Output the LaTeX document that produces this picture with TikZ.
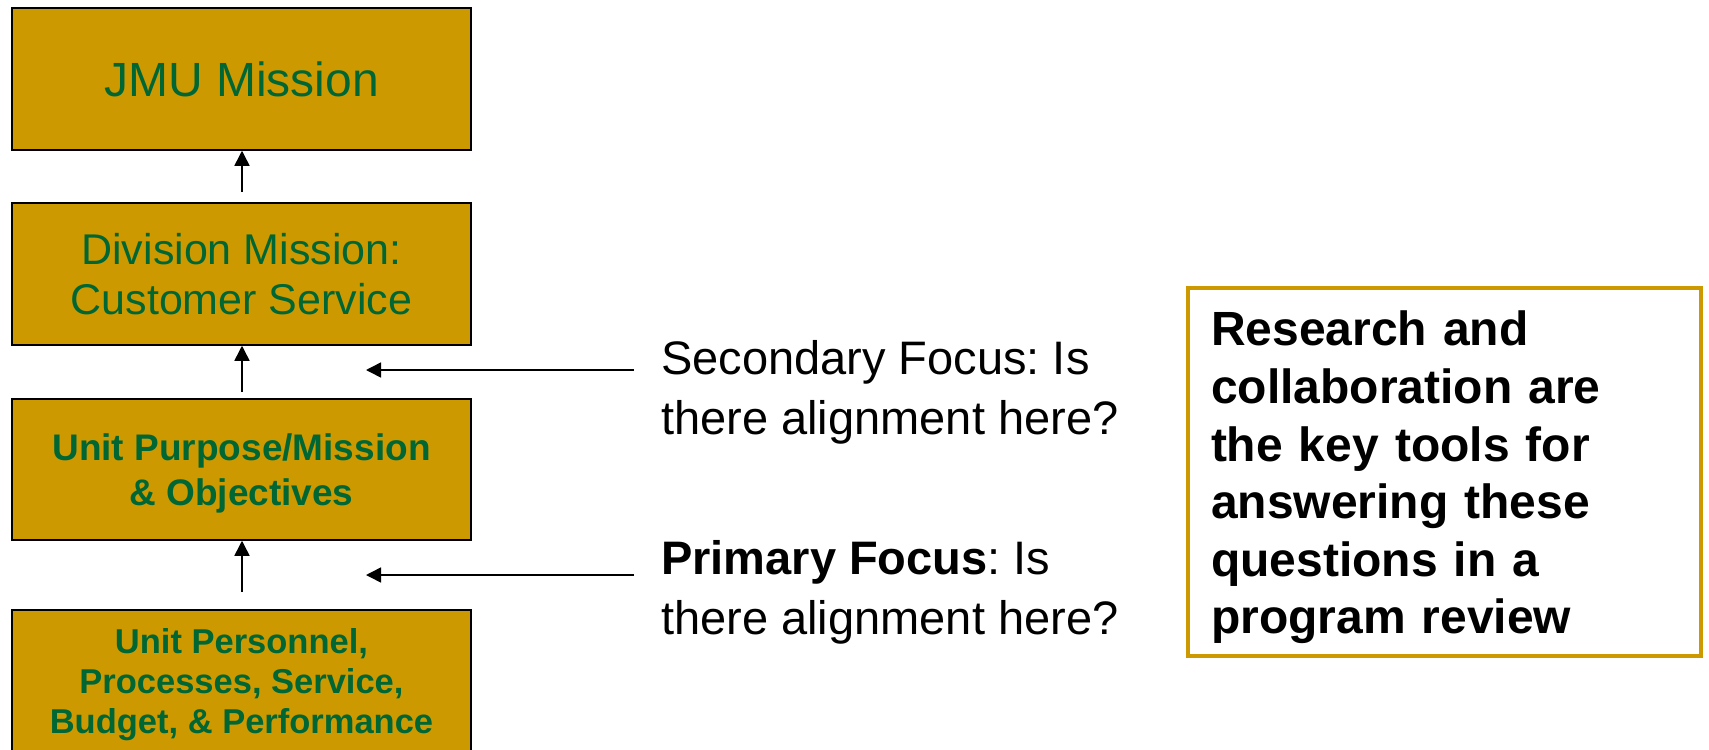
\documentclass[tikz,border=0pt]{standalone}
\usepackage{fontspec}
\setmainfont{Liberation Sans}
\usetikzlibrary{arrows.meta}
\definecolor{jmugold}{RGB}{204,153,0}
\definecolor{jmugreen}{RGB}{0,102,51}
\frenchspacing

\begin{document}
\begin{tikzpicture}[x=1pt,y=-1pt,
	goldbox/.style={draw=black,line width=1.5pt,fill=jmugold,text=jmugreen,minimum width=459pt,minimum height=142pt,inner sep=0pt,align=center,text depth=0pt},
	flow/.style={-{Triangle[length=15pt,width=15pt]},line width=1.5pt},
	question/.style={anchor=south west,inner sep=0pt,align=left,text depth=0pt,font=\fontsize{47}{60}\selectfont}]
	\useasboundingbox (0,0) rectangle (1709,750);
	\node (jmu) at (241.5,79)[goldbox,font=\fontsize{48}{58}\selectfont] {JMU Mission};
	\node (division) at (241.5,274)[goldbox,font=\fontsize{43}{50}\selectfont] {Division Mission:\\Customer Service};
	\node (unit) at (241.5,469.5)[goldbox,minimum height=141pt,font=\bfseries\fontsize{37}{45}\selectfont] {Unit Purpose/Mission\\\& Objectives};
	\node (personnel) at (241.5,681)[goldbox,font=\bfseries\fontsize{34.5}{40}\selectfont] {Unit Personnel,\\Processes, Service,\\Budget, \& Performance};
	\coordinate (up1) at (242,192);
	\coordinate (up2) at (242,392);
	\coordinate (up3) at (242,592);
	\draw[flow] (up1)--(up1 |- jmu.south);
	\draw[flow] (up2)--(up2 |- division.south);
	\draw[flow] (up3)--(up3 |- unit.south);
	\node (secondary) at (661,435)[question] {Secondary Focus: Is\\there alignment here?};
	\node (primary) at (661,635)[question] {\textbf{Primary Focus}: Is\\there alignment here?};
	\coordinate (secfrom) at (634,370);
	\coordinate (secto) at (366,370);
	\coordinate (prifrom) at (634,575);
	\coordinate (prito) at (366,575);
	\draw[flow] (secfrom)--(secto);
	\draw[flow] (prifrom)--(prito);
	\node (tools) at (1444.5,472)[draw=jmugold,line width=4pt,minimum width=513pt,minimum height=368pt,text width=467pt,inner xsep=23pt,inner ysep=0pt,align=left,text height=46pt,font=\bfseries\fontsize{48}{57.6}\selectfont] {Research and\\collaboration are\\the key tools for\\answering these\\questions in a\\program review};
\end{tikzpicture}
\end{document}
